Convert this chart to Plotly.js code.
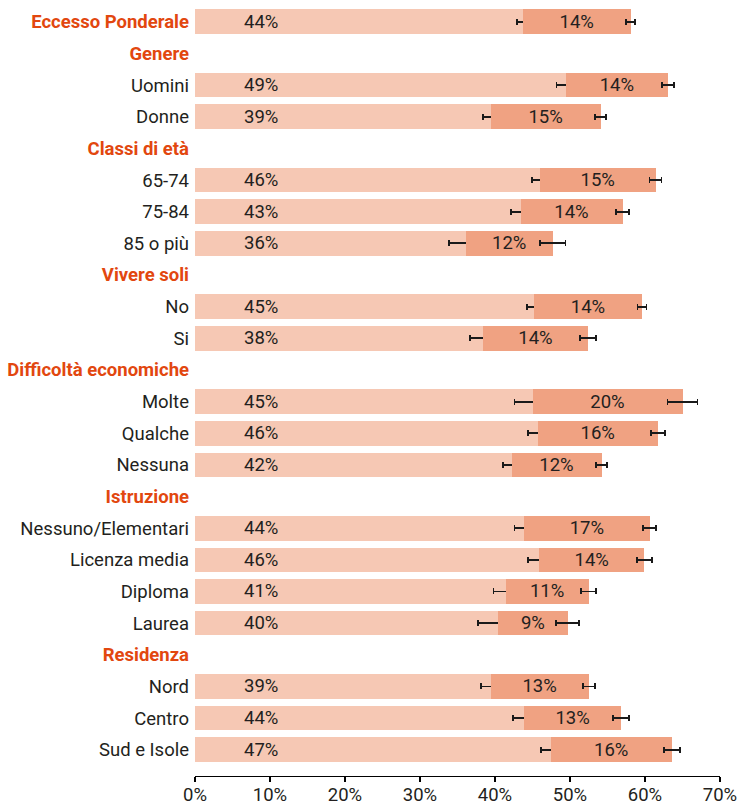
<!DOCTYPE html>
<html>
<head>
<meta charset="utf-8">
<script src="https://cdn.plot.ly/plotly-3.0.1.min.js"></script>
<style>html,body{margin:0;padding:0;background:#fff;}#chart{width:742px;height:805px;}</style>
</head>
<body>
<div id="chart"></div>
<script>
// Categories (top to bottom); headers have null values
const categories = ["Eccesso Ponderale","Genere","Uomini","Donne","Classi di età","65-74","75-84","85 o più",
  "Vivere soli","No","Si","Difficoltà economiche","Molte","Qualche","Nessuna","Istruzione",
  "Nessuno/Elementari","Licenza media","Diploma","Laurea","Residenza","Nord","Centro","Sud e Isole"];
const headers = ["Eccesso Ponderale","Genere","Classi di età","Vivere soli","Difficoltà economiche","Istruzione","Residenza"];

// Sovrappeso (first segment) and Obesità (second segment), percentages
const sovrappeso = [43.7,null,49.4,39.4,null,46.0,43.4,36.1,null,45.2,38.4,null,45.0,45.7,42.2,null,43.9,45.9,41.4,40.4,null,39.4,43.9,47.4];
const obesita    = [14.4,null,13.7,14.7,null,15.4,13.6,11.6,null,14.4,14.0,null,20.0,16.0,12.0,null,16.7,14.0,11.1,9.3,null,13.1,12.9,16.2];
const errSovrappeso = [0.8,null,1.2,1.05,null,1.1,1.3,2.2,null,0.95,1.7,null,2.4,1.35,1.1,null,1.3,1.5,1.6,2.7,null,1.25,1.55,1.25];
const errObesita    = [0.6,null,0.8,0.75,null,0.8,0.85,1.7,null,0.6,1.1,null,2.0,0.95,0.7,null,0.9,1.0,1.0,1.55,null,0.8,1.1,1.05];
const labelSovrappeso = ["44%","","49%","39%","","46%","43%","36%","","45%","38%","","45%","46%","42%","","44%","46%","41%","40%","","39%","44%","47%"];
const labelObesita    = ["14%","","14%","15%","","15%","14%","12%","","14%","14%","","20%","16%","12%","","17%","14%","11%","9%","","13%","13%","16%"];
const xTicks = [0,10,20,30,40,50,60,70];

const FONT = "Roboto, 'DejaVu Sans', sans-serif";
const TXT = "#231f20";
const ORANGE = "#e2470f";

const tickText = categories.map(c => headers.includes(c)
  ? "<b><span style='color:" + ORANGE + "'>" + c + "</span></b>" : c);

const traces = [
  {
    type: "bar", orientation: "h", y: categories, x: sovrappeso,
    marker: {color: "#f6c8b4"},
    error_x: {type: "data", array: errSovrappeso, visible: true, color: "#1a1a1a", thickness: 1.8, width: 3},
    hoverinfo: "skip", showlegend: false
  },
  {
    type: "bar", orientation: "h", y: categories, x: obesita,
    marker: {color: "#f0a282"},
    text: labelObesita, textposition: "inside", insidetextanchor: "middle",
    textfont: {family: FONT, size: 18.5, color: TXT},
    insidetextfont: {family: FONT, size: 18.5, color: TXT},
    constraintext: "none", textangle: 0,
    error_x: {type: "data", array: errObesita, visible: true, color: "#1a1a1a", thickness: 1.8, width: 3},
    hoverinfo: "skip", showlegend: false
  }
];

const annotations = categories.map((c, i) => labelSovrappeso[i] ? {
  x: 8.8, y: c, xref: "x", yref: "y", text: labelSovrappeso[i], showarrow: false,
  font: {family: FONT, size: 18.5, color: TXT}, xanchor: "center", yanchor: "middle"
} : null).filter(a => a);

const layout = {
  width: 742, height: 805,
  margin: {l: 195, r: 22, t: 6, b: 29},
  paper_bgcolor: "#fff", plot_bgcolor: "#fff",
  barmode: "stack", bargap: 0.22,
  font: {family: FONT, size: 18, color: TXT},
  xaxis: {
    range: [0, 70], tickvals: xTicks, ticktext: xTicks.map(v => v + "%"),
    showgrid: false, zeroline: false, showline: true, linecolor: "#000", linewidth: 1.2,
    ticks: "outside", ticklen: 5, tickcolor: "#000", tickwidth: 1.2,
    ticklabelstandoff: -3,
    tickfont: {family: FONT, size: 18.5, color: TXT}, fixedrange: true
  },
  yaxis: {
    type: "category", categoryorder: "array", categoryarray: categories,
    range: [23.83, -0.5],
    tickvals: categories, ticktext: tickText,
    showgrid: false, zeroline: false, showline: false, ticks: "",
    ticklabelstandoff: 5,
    tickfont: {family: FONT, size: 18.5, color: TXT}, fixedrange: true
  },
  annotations: annotations
};

Plotly.newPlot("chart", traces, layout, {displayModeBar: false, staticPlot: true});
</script>
</body>
</html>
